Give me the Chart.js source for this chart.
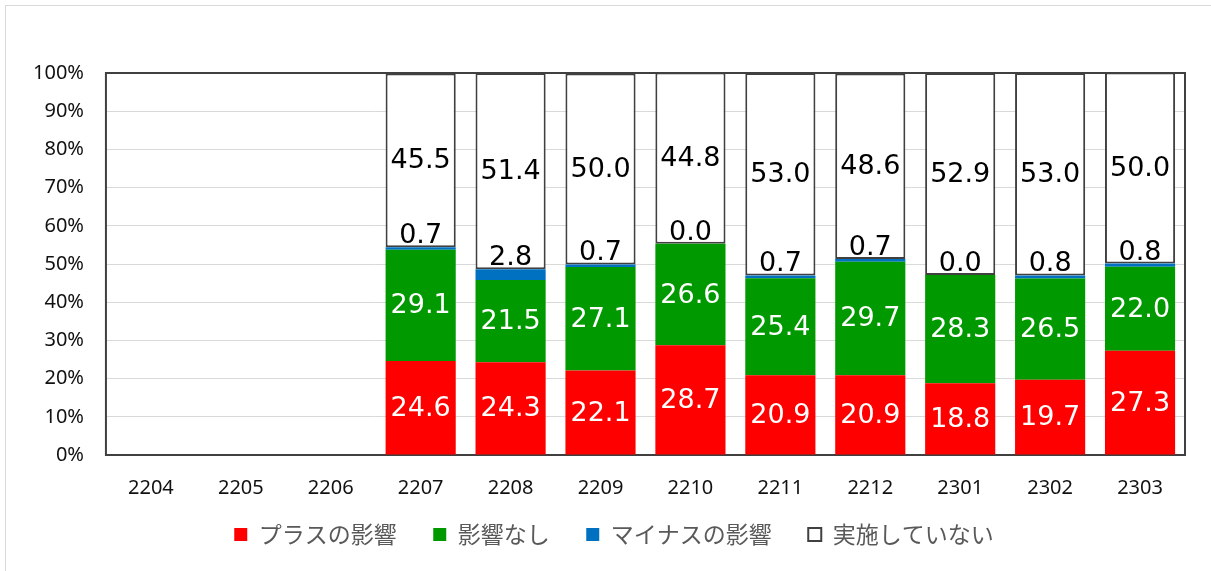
<!DOCTYPE html>
<html>
<head>
<meta charset="utf-8">
<script src="https://cdn.jsdelivr.net/npm/chart.js@4"></script>
<style>
  body { margin: 0; background: #fff; }
  #frame { position: absolute; left: 5px; top: 5px; width: 1210px; height: 580px; border: 1px solid #d9d9d9; }
  #wrap { position: absolute; left: 0; top: 0; width: 1211px; height: 571px; }
</style>
</head>
<body>
<div id="frame"></div>
<div id="wrap"><canvas id="my-bar-Chart"></canvas></div>
<script>
const months = ["2204", "2205", "2206", "2207", "2208", "2209", "2210", "2211", "2212", "2301", "2302", "2303"];
const plusValues = [null, null, null, 24.6, 24.3, 22.1, 28.7, 20.9, 20.9, 18.8, 19.7, 27.3];
const noneValues = [null, null, null, 29.1, 21.5, 27.1, 26.6, 25.4, 29.7, 28.3, 26.5, 22.0];
const minusValues = [null, null, null, 0.7, 2.8, 0.7, 0.0, 0.7, 0.7, 0.0, 0.8, 0.8];
const notDoneValues = [null, null, null, 45.5, 51.4, 50.0, 44.8, 53.0, 48.6, 52.9, 53.0, 50.0];
const yTicks = [0, 10, 20, 30, 40, 50, 60, 70, 80, 90, 100];

// plot area frame, drawn under the bars
const plotFrame = {
  id: "plotFrame",
  beforeDatasetsDraw(chart) {
    const { ctx, chartArea: a } = chart;
    ctx.save();
    ctx.strokeStyle = "#404040";
    ctx.lineWidth = 2;
    ctx.strokeRect(a.left, a.top, a.right - a.left, a.bottom - a.top);
    ctx.restore();
  },
};

// excel centers the legend a bit to the right
const legendShift = {
  id: "legendShift",
  afterLayout(chart) {
    if (!chart.legend) return;
    chart.legend.left += 16;
    chart.legend.right += 16;
  },
};

// value labels like excel
const valueLabels = {
  id: "valueLabels",
  afterDatasetsDraw(chart) {
    const ctx = chart.ctx;
    ctx.save();
    ctx.font = "27px 'DejaVu Sans'";
    ctx.textAlign = "center";
    chart.data.datasets.forEach((ds, i) => {
      const meta = chart.getDatasetMeta(i);
      meta.data.forEach((bar, j) => {
        const v = ds.data[j];
        if (v === null) return;
        const txt = v.toFixed(1);
        if (i === 2) {
          // small segment: label sits just above it
          ctx.fillStyle = "#000";
          ctx.textBaseline = "alphabetic";
          ctx.fillText(txt, bar.x, Math.min(bar.y, bar.base) - 4);
        } else {
          ctx.fillStyle = i < 2 ? "#fff" : "#000";
          ctx.textBaseline = "middle";
          ctx.fillText(txt, bar.x, (bar.y + bar.base) / 2 + 1);
        }
      });
    });
    ctx.restore();
  },
};

const ctx = document.querySelector("#my-bar-Chart");

let myBarChart = new Chart(ctx, {
  type: "bar",
  data: {
    labels: months,
    datasets: [
      { label: "プラスの影響", data: plusValues, backgroundColor: "#ff0000", borderWidth: 0 },
      { label: "影響なし", data: noneValues, backgroundColor: "#009900", borderWidth: 0 },
      { label: "マイナスの影響", data: minusValues, backgroundColor: "#0070c0", borderWidth: 0 },
      {
        label: "実施していない",
        data: notDoneValues,
        backgroundColor: "#ffffff",
        borderColor: "#404040",
        borderWidth: 2,
        borderSkipped: false,
      },
    ],
  },
  options: {
    responsive: true,
    maintainAspectRatio: false,
    animation: false,
    barPercentage: 0.78,
    categoryPercentage: 1,
    layout: { padding: { top: 73, right: 26, left: 11, bottom: 15 } },
    plugins: {
      tooltip: { enabled: false },
      legend: {
        display: true,
        position: "bottom",
        labels: {
          color: "#595959",
          font: { family: "'Noto Sans CJK JP'", size: 23 },
          boxWidth: 13,
          boxHeight: 13,
          padding: 2,
          generateLabels: (chart) => {
            const items = Chart.defaults.plugins.legend.labels.generateLabels(chart);
            items.forEach((it, i) => {
              if (i < items.length - 1) it.text += "\u2003\u2002";
            });
            return items;
          },
        },
      },
    },
    scales: {
      x: {
        stacked: true,
        grid: { display: false, drawTicks: false },
        border: { display: false },
        ticks: { color: "#111", font: { family: "'Noto Sans'", size: 20 }, padding: 21 },
      },
      y: {
        stacked: true,
        min: 0,
        max: 100,
        afterBuildTicks: (axis) => {
          axis.ticks = yTicks.map((v) => ({ value: v }));
        },
        grid: { color: "#d9d9d9", lineWidth: 1, drawTicks: false },
        border: { display: false },
        ticks: {
          color: "#111",
          font: { family: "'Noto Sans'", size: 20 },
          padding: 22,
          callback: (v) => v + "%",
        },
      },
    },
  },
  plugins: [plotFrame, legendShift, valueLabels],
});
</script>
</body>
</html>
